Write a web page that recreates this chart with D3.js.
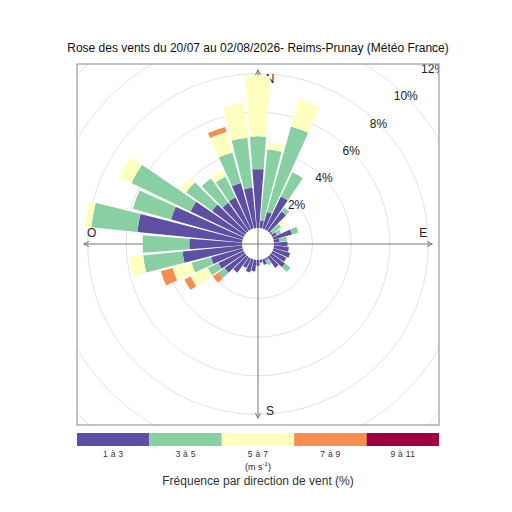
<!DOCTYPE html>
<html>
<head>
<meta charset="utf-8">
<script src="https://cdn.jsdelivr.net/npm/d3@7"></script>
<style>
  body { margin: 0; background: #fff; }
  text { font-family: "Liberation Sans", Arial, sans-serif; }
</style>
</head>
<body>
<svg id="rose" width="512" height="512"></svg>
<script>
// directions (degrees) and frequency (%) per speed class
const dirs = d3.range(0, 360, 10);
const f1_3  = [3.05,0.4,0.9,1.9,1.25,0.1,0.25,1.0,0.3,0.7,0.78,0.9,0.8,0.9,0.7,0.1,0.3,0.15,
               0.3,0.6,0.7,0.55,1.0,1.3,1.45,1.7,3.1,2.73,5.45,3.85,3.05,2.1,1.8,1.85,2.45,2.1];
const f3_5  = [1.7,3.7,4.6,1.4,0.25,0.55,0.25,0.35,0.37,0,0,0,0,0.35,0,0.3,0,0,
               0,0,0,0,0,0.4,0.6,1.05,2.05,2.42,2.4,2.05,3.4,1.65,1.55,1.2,1.65,2.6];
const f5_7  = [3.15,0.35,1.45,0,0,0.3,0,0,0,0,0,0,0,0,0,0,0,0,
               0,0,0,0,0,0,1.0,1.02,0.7,0,0.35,0,0.7,0.35,0,0.35,1.1,1.8];
const f7_9  = [0,0,0,0,0,0,0,0,0,0,0,0,0,0,0,0,0,0,
               0,0,0,0,0,0.35,0.35,0.63,0,0,0,0,0,0,0,0,0.27,0];
const f9_11 = dirs.map(() => 0);

const classes = ["1 à 3", "3 à 5", "5 à 7", "7 à 9", "9 à 11"];
const colours = ["#5e4fa2", "#88cfa4", "#ffffbf", "#f88d52", "#9e0142"];
const gridVals = [2, 4, 6, 8, 10, 12];
const cardinals = [["N", 0], ["E", 90], ["S", 180], ["O", 270]];

const series = [f1_3, f3_5, f5_7, f7_9, f9_11];

const svg = d3.select("#rose");
const cx = 258, cy = 244;
const px0 = 77, py0 = 64, pw = 362, ph = 361;

const rScale = d3.scaleLinear().domain([0, 12]).range([16, 247.6]);

// title
svg.append("text")
    .attr("x", 258).attr("y", 52)
    .attr("text-anchor", "middle")
    .style("font-size", "12px")
    .attr("fill", "#111")
    .text("Rose des vents du 20/07 au 02/08/2026- Reims-Prunay (Météo France)");

svg.append("clipPath").attr("id", "panel")
  .append("rect").attr("x", px0).attr("y", py0).attr("width", pw).attr("height", ph);

const g = svg.append("g").attr("clip-path", "url(#panel)");
const plot = g.append("g").attr("transform", "translate(" + cx + "," + cy + ")");

// grid circles
plot.selectAll("circle.grid")
    .data(gridVals).enter()
    .append("circle")
        .attr("class", "grid")
        .attr("r", d => rScale(d))
        .attr("fill", "none")
        .attr("stroke", "#e2e2e2")
        .attr("stroke-width", 1);

// cumulative stacks
const totals = dirs.map((d, i) => d3.sum(series, s => s[i]));
const maxTot = d3.max(totals);
const axLen = rScale(maxTot);

// axes with arrows on both ends
const axisCol = "#777";
function arrow(x1, y1, x2, y2) {
    plot.append("line")
        .attr("x1", x1).attr("y1", y1).attr("x2", x2).attr("y2", y2)
        .attr("stroke", axisCol).attr("stroke-width", 1);
    [[x1, y1, x2, y2], [x2, y2, x1, y1]].forEach(p => {
        const a = Math.atan2(p[3] - p[1], p[2] - p[0]);
        const L = 6, w = Math.PI / 7;
        plot.append("path")
            .attr("d", "M" + (p[2] - L * Math.cos(a - w)) + "," + (p[3] - L * Math.sin(a - w)) +
                       "L" + p[2] + "," + p[3] +
                       "L" + (p[2] - L * Math.cos(a + w)) + "," + (p[3] - L * Math.sin(a + w)))
            .attr("fill", "none").attr("stroke", axisCol).attr("stroke-width", 1);
    });
}
arrow(-axLen, 0, axLen, 0);
arrow(0, axLen, 0, -axLen);

// cardinal labels
const cardPos = {N: [12, -axLen + 13], E: [axLen - 9, -7], S: [12, axLen - 3], O: [-axLen + 8, -7]};
plot.selectAll("text.card")
    .data(cardinals).enter()
    .append("text")
        .attr("class", "card")
        .attr("x", d => cardPos[d[0]][0])
        .attr("y", d => cardPos[d[0]][1])
        .attr("text-anchor", "middle")
        .style("font-size", "12px")
        .attr("fill", "#222")
        .text(d => d[0]);

// wedges
const half = 4.3 * Math.PI / 180;
const arc = d3.arc();
const segs = [];
dirs.forEach((d, i) => {
    let base = 0;
    series.forEach((s, k) => {
        if (s[i] > 0) {
            segs.push({dir: d, lo: base, hi: base + s[i], k: k});
        }
        base += s[i];
    });
});

plot.selectAll("path.wedge")
    .data(segs).enter()
    .append("path")
        .attr("class", "wedge")
        .attr("d", d => arc({
            innerRadius: rScale(d.lo),
            outerRadius: rScale(d.hi),
            startAngle: d.dir * Math.PI / 180 - half,
            endAngle: d.dir * Math.PI / 180 + half
        }))
        .attr("fill", d => colours[d.k]);

// ring labels at 45 degrees
plot.selectAll("text.ring")
    .data(gridVals).enter()
    .append("text")
        .attr("class", "ring")
        .attr("x", d => rScale(d) * Math.SQRT1_2)
        .attr("y", d => -rScale(d) * Math.SQRT1_2 + 4)
        .attr("text-anchor", "middle")
        .style("font-size", "12px")
        .attr("fill", "#222")
        .text(d => d + "%");

// panel frame
svg.append("rect")
    .attr("x", px0).attr("y", py0).attr("width", pw).attr("height", ph)
    .attr("fill", "none").attr("stroke", "#9a9a9a").attr("stroke-width", 1.2);

// legend
const lx = d3.scaleBand().domain(classes).range([77, 439]).padding(0);
svg.selectAll("rect.key")
    .data(classes).enter()
    .append("rect")
        .attr("class", "key")
        .attr("x", d => lx(d))
        .attr("y", 433)
        .attr("width", lx.bandwidth())
        .attr("height", 13)
        .attr("fill", (d, i) => colours[i]);

svg.selectAll("text.key")
    .data(classes).enter()
    .append("text")
        .attr("class", "key")
        .attr("x", d => lx(d) + lx.bandwidth() / 2)
        .attr("y", 457)
        .attr("text-anchor", "middle")
        .style("font-size", "8.5px")
        .style("letter-spacing", "0.3px")
        .attr("fill", "#333")
        .text(d => d);

const unit = svg.append("text")
    .attr("x", 258).attr("y", 470)
    .attr("text-anchor", "middle")
    .style("font-size", "9px")
    .attr("fill", "#222");
unit.append("tspan").text("(m s");
unit.append("tspan").attr("dy", -4).style("font-size", "6px").text("-1");
unit.append("tspan").attr("dy", 4).text(")");

svg.append("text")
    .attr("x", 258).attr("y", 485)
    .attr("text-anchor", "middle")
    .style("font-size", "12px")
    .attr("fill", "#333")
    .text("Fréquence par direction de vent (%)");
</script>
</body>
</html>
